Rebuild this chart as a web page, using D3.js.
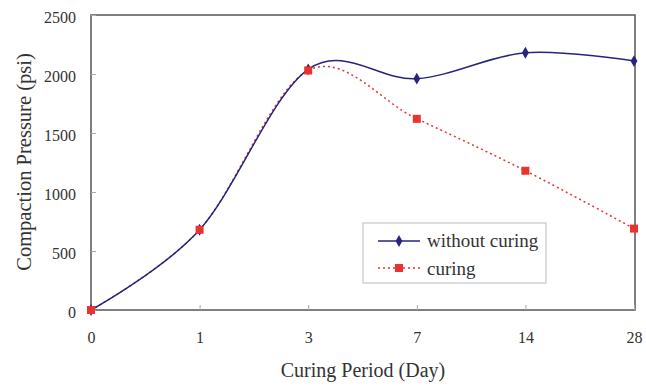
<!DOCTYPE html>
<html><head><meta charset="utf-8">
<script src="https://cdn.jsdelivr.net/npm/d3@7"></script>
<style>body{margin:0;background:#fff}svg{display:block}text{font-family:"Liberation Serif","Times New Roman",serif;fill:#333}</style>
</head><body><svg id="c" width="646" height="387"></svg>
<script>
const categories = ["0","1","3","7","14","28"];
const withoutCuring = [0, 680, 2040, 1960, 2180, 2110];
const curing = [0, 680, 2030, 1620, 1180, 690];
const yTicks = [0, 500, 1000, 1500, 2000, 2500];

const svg = d3.select("#c");
const L = 91, R = 634, T = 15, B = 310;
const x = d3.scalePoint().domain(categories).range([L, R]).padding(0);
const y = d3.scaleLinear().domain([0, 2500]).range([B, T]);

// frame
svg.append("rect").attr("x", L).attr("y", T).attr("width", 635 - L).attr("height", B - T)
  .attr("fill", "none").attr("stroke", "#555").attr("stroke-width", 1.5);

const ya = svg.append("g").attr("transform", `translate(${L},0)`)
  .call(d3.axisLeft(y).tickValues(yTicks).tickFormat(d3.format("d")).tickSize(-5).tickPadding(15));
ya.select(".domain").remove();
ya.selectAll("line").attr("stroke", "#aaa");
ya.selectAll("text").attr("font-size", 16).attr("dy", "0.45em").style("font-family", "Liberation Serif");

const xa = svg.append("g").attr("transform", `translate(0,${B})`)
  .call(d3.axisBottom(x).tickSize(-5).tickPadding(22));
xa.select(".domain").remove();
xa.selectAll("line").attr("stroke", "#aaa");
xa.selectAll("text").attr("font-size", 16).style("font-family", "Liberation Serif");

svg.append("text").attr("x", 363).attr("y", 377).attr("text-anchor", "middle")
  .attr("font-size", 20).text("Curing Period (Day)");
svg.append("text").attr("transform", "translate(31,162) rotate(-90)").attr("text-anchor", "middle")
  .attr("font-size", 20.5).text("Compaction Pressure (psi)");

const line = d3.line().x((d, i) => x(categories[i])).y(d => y(d)).curve(d3.curveCardinal.tension(0));

const blue = "#27237f", red = "#e8332f";
svg.append("path").datum(curing).attr("d", line).attr("fill", "none")
  .attr("stroke", red).attr("stroke-width", 1.5).attr("stroke-dasharray", "2,3");
svg.append("path").datum(withoutCuring).attr("d", line).attr("fill", "none")
  .attr("stroke", blue).attr("stroke-width", 1.5);

const diamond = d3.symbol().type(d3.symbolDiamond).size(40);
svg.selectAll(".bd").data(withoutCuring).enter().append("path")
  .attr("transform", (d, i) => `translate(${x(categories[i])},${y(d)})`)
  .attr("d", diamond).attr("fill", blue);
svg.selectAll(".rs").data(curing).enter().append("rect")
  .attr("x", (d, i) => x(categories[i]) - 4).attr("y", d => y(d) - 4)
  .attr("width", 8).attr("height", 8).attr("fill", red);

// legend
const lg = svg.append("g");
lg.append("rect").attr("x", 363).attr("y", 223).attr("width", 183).attr("height", 60)
  .attr("fill", "#fff").attr("stroke", "#bbb");
lg.append("line").attr("x1", 378).attr("x2", 420).attr("y1", 241).attr("y2", 241).attr("stroke", blue).attr("stroke-width", 1.5);
lg.append("path").attr("transform", "translate(399,241)").attr("d", diamond).attr("fill", blue);
lg.append("text").attr("x", 427).attr("y", 247).attr("font-size", 19).text("without curing");
lg.append("line").attr("x1", 378).attr("x2", 420).attr("y1", 268).attr("y2", 268).attr("stroke", red).attr("stroke-width", 1.5).attr("stroke-dasharray", "2,3");
lg.append("rect").attr("x", 395).attr("y", 264).attr("width", 8).attr("height", 8).attr("fill", red);
lg.append("text").attr("x", 427).attr("y", 275).attr("font-size", 19).text("curing");
</script></body></html>
